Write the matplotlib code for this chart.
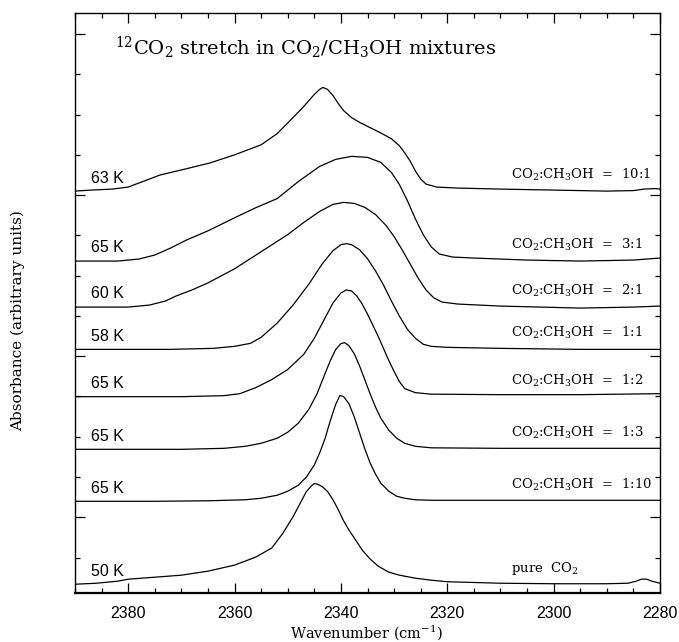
import matplotlib
matplotlib.use("Agg")
import matplotlib.pyplot as plt
from matplotlib.ticker import MultipleLocator

plt.rcParams['mathtext.fontset'] = 'dejavuserif'

# ---------------- data (wavenumber, absorbance above each baseline) ----------------
wn_10_1 = [2390, 2387, 2383, 2380, 2378, 2374, 2370, 2364.6, 2360, 2355, 2352, 2349, 2347, 2346,
           2345, 2344, 2343.4, 2342.5, 2341.5, 2340.5, 2339.5, 2338, 2336.4, 2334.5, 2332.6,
           2330.5, 2329, 2328, 2327, 2326, 2325, 2324, 2322, 2318, 2310, 2300, 2290, 2285, 2283,
           2281, 2280]
ab_10_1 = [0, 1, 2, 4, 8, 16, 21, 28, 36, 46, 57, 73, 84, 90,
           96, 101, 103, 101, 95, 87, 80, 73, 68, 63, 58,
           52, 45, 38, 30, 20, 12, 7, 4, 3, 2, 1, 0, 0.5, 2,
           2.5, 2]

wn_3_1 = [2390, 2382, 2378, 2375, 2372, 2369, 2365, 2360, 2356, 2352, 2348, 2344, 2341, 2338, 2335,
          2332.5, 2330.5, 2329, 2327.5, 2326, 2324.5, 2323, 2321.5, 2319, 2315, 2305, 2295, 2285, 2280]
ab_3_1 = [0, 0, 2, 6, 13, 21, 30, 43, 53, 62, 79, 94, 101, 104, 103,
          98, 88, 76, 60, 42, 26, 14, 7, 4, 3, 1, 0, 1, 3]

wn_2_1 = [2390, 2380, 2376, 2373, 2371, 2368, 2365, 2360, 2355, 2350, 2347, 2344, 2341.5, 2339.5,
          2337.5, 2335.5, 2333.5, 2331.5, 2330, 2328.5, 2327, 2325.5, 2324, 2322.5, 2321, 2318,
          2310, 2295, 2285, 2280]
ab_2_1 = [0, 0, 2, 6, 11, 17, 24, 38, 55, 72, 84, 95, 102, 104,
          103, 99, 92, 81, 70, 57, 43, 29, 17, 9, 5, 3,
          1, -1, 0, 1]

wn_1_1 = [2390, 2372, 2364, 2360, 2357, 2355, 2352, 2349, 2346, 2343.5, 2341.5, 2340, 2339, 2338,
          2336.5, 2335, 2333.5, 2332, 2330.5, 2329, 2327.5, 2326, 2324.5, 2323, 2320, 2310, 2295, 2280]
ab_1_1 = [0, 0, 1, 3, 6, 12, 26, 44, 65, 85, 98, 104, 105, 104,
          99, 90, 78, 64, 48, 33, 20, 11, 5, 3, 2, 1, 0, 0]

wn_1_2 = [2390, 2370, 2362, 2359, 2356, 2353, 2350, 2347, 2345, 2343, 2341.5, 2340, 2339, 2338,
          2337, 2336, 2335, 2334, 2333, 2332, 2331, 2330, 2329, 2328, 2326, 2323, 2310, 2295, 2280]
ab_1_2 = [0, 0, 1, 3, 9, 17, 27, 42, 58, 78, 93, 103, 106, 105,
          100, 92, 82, 71, 60, 48, 36, 25, 15, 8, 4, 2.5, 2, 2, 3]

wn_1_3 = [2390, 2370, 2362, 2358, 2355, 2352, 2350, 2348, 2346, 2344.5, 2343, 2342, 2341, 2340,
          2339.3, 2338.5, 2337.5, 2336.5, 2335.5, 2334.5, 2333.5, 2332.5, 2331, 2329.5, 2328, 2326,
          2323, 2310, 2295, 2280]
ab_1_3 = [0, 0, 1, 3, 6, 11, 17, 26, 40, 55, 75, 88, 99, 105,
          106, 103, 95, 83, 69, 55, 42, 31, 19, 11, 6, 3,
          1.5, 1, 1, 1]

wn_1_10 = [2390, 2375, 2365, 2358, 2355, 2352, 2350, 2348, 2346.5, 2345, 2344, 2343, 2342, 2341,
           2340.2, 2339.5, 2338.5, 2337.5, 2336.5, 2335.5, 2334.5, 2333.5, 2332.5, 2331, 2329.5,
           2328, 2326, 2323, 2310, 2295, 2280]
ab_1_10 = [0, 0, 0.5, 1.5, 3, 6, 10, 16, 24, 36, 48, 62, 80, 96,
           105, 104, 97, 84, 68, 52, 38, 27, 18, 10, 5,
           3, 1.5, 1, 1, 1, 1]

wn_pure = [2390, 2386, 2382, 2380, 2375, 2370, 2365, 2360, 2356, 2353, 2351, 2349, 2347.5, 2346.5,
           2345.5, 2345, 2344.5, 2343.5, 2342.5, 2341.5, 2340.5, 2339.5, 2338.5, 2337.5, 2336,
           2334.5, 2333, 2331, 2329, 2326, 2323, 2320, 2310, 2300, 2290, 2286, 2284.5, 2283.5,
           2282.5, 2281.5, 2280]
ab_pure = [0, 1, 3, 5, 7, 9, 13, 19, 27, 36, 50, 67, 82, 92,
           98, 100, 99.5, 97, 92, 84, 74, 63, 54, 46, 34,
           25, 18, 12, 9, 6, 4, 2.5, 1, 0.5, 0.5, 1, 3, 5,
           5, 3, 1]

offsets = [324.0, 254.5, 208.8, 166.8, 119.8, 67.5, 15.9, -66.5]
temps = ["63 K", "65 K", "60 K", "58 K", "65 K", "65 K", "65 K", "50 K"]
mix_labels = [r"CO$_2$:CH$_3$OH  =  10:1", r"CO$_2$:CH$_3$OH  =  3:1",
              r"CO$_2$:CH$_3$OH  =  2:1", r"CO$_2$:CH$_3$OH  =  1:1",
              r"CO$_2$:CH$_3$OH  =  1:2", r"CO$_2$:CH$_3$OH  =  1:3",
              r"CO$_2$:CH$_3$OH  =  1:10", r"pure  CO$_2$"]
spectra = [(wn_10_1, ab_10_1), (wn_3_1, ab_3_1), (wn_2_1, ab_2_1), (wn_1_1, ab_1_1),
           (wn_1_2, ab_1_2), (wn_1_3, ab_1_3), (wn_1_10, ab_1_10), (wn_pure, ab_pure)]

x_ticks = [2380, 2360, 2340, 2320, 2300, 2280]

# ---------------- figure ----------------
fig = plt.figure(figsize=(6.79, 6.42), dpi=100)
ax = fig.add_axes([75 / 679, 49 / 642, 585 / 679, 580 / 642])

for (wn, ab), off in zip(spectra, offsets):
    ax.plot(wn, [a + off for a in ab], color='black', lw=0.9)

for t, lab, off in zip(temps, mix_labels, offsets):
    ax.text(2387, off + 13, t, fontsize=11.5, family='Liberation Sans',
            ha='left', va='center')
    ax.text(2308, off + 16, lab, fontsize=9.5, family='DejaVu Serif',
            ha='left', va='center')

ax.text(0.068, 0.94, r"$^{12}$CO$_2$ stretch in CO$_2$/CH$_3$OH mixtures",
        transform=ax.transAxes, fontsize=14, family='DejaVu Serif',
        ha='left', va='center')

ax.set_xlim(2390, 2280)
ax.set_ylim(-75.2, 500.9)
ax.set_xticks(x_ticks)
ax.xaxis.set_minor_locator(MultipleLocator(5))
ax.yaxis.set_major_locator(MultipleLocator(160))
ax.yaxis.set_minor_locator(MultipleLocator(40))
ax.set_yticklabels([])
ax.tick_params(which='both', direction='in', top=True, right=True, width=0.9)
ax.tick_params(which='major', length=7)
ax.tick_params(which='minor', length=3.5)
ax.tick_params(axis='x', labelsize=11.5, pad=9)
for lbl in ax.get_xticklabels():
    lbl.set_family('Liberation Sans')
for sp in ax.spines.values():
    sp.set_linewidth(1.0)
ax.spines['bottom'].set_linewidth(1.6)

fig.text(367 / 679, 1 - 633 / 642, r"Wavenumber (cm$^{-1}$)", fontsize=10.5,
         family='DejaVu Serif', ha='center', va='center')
fig.text(18 / 679, 1 - 321 / 642, "Absorbance (arbitrary units)", fontsize=11,
         family='DejaVu Serif', ha='center', va='center', rotation=90)

fig.savefig("out.png", dpi=100)
